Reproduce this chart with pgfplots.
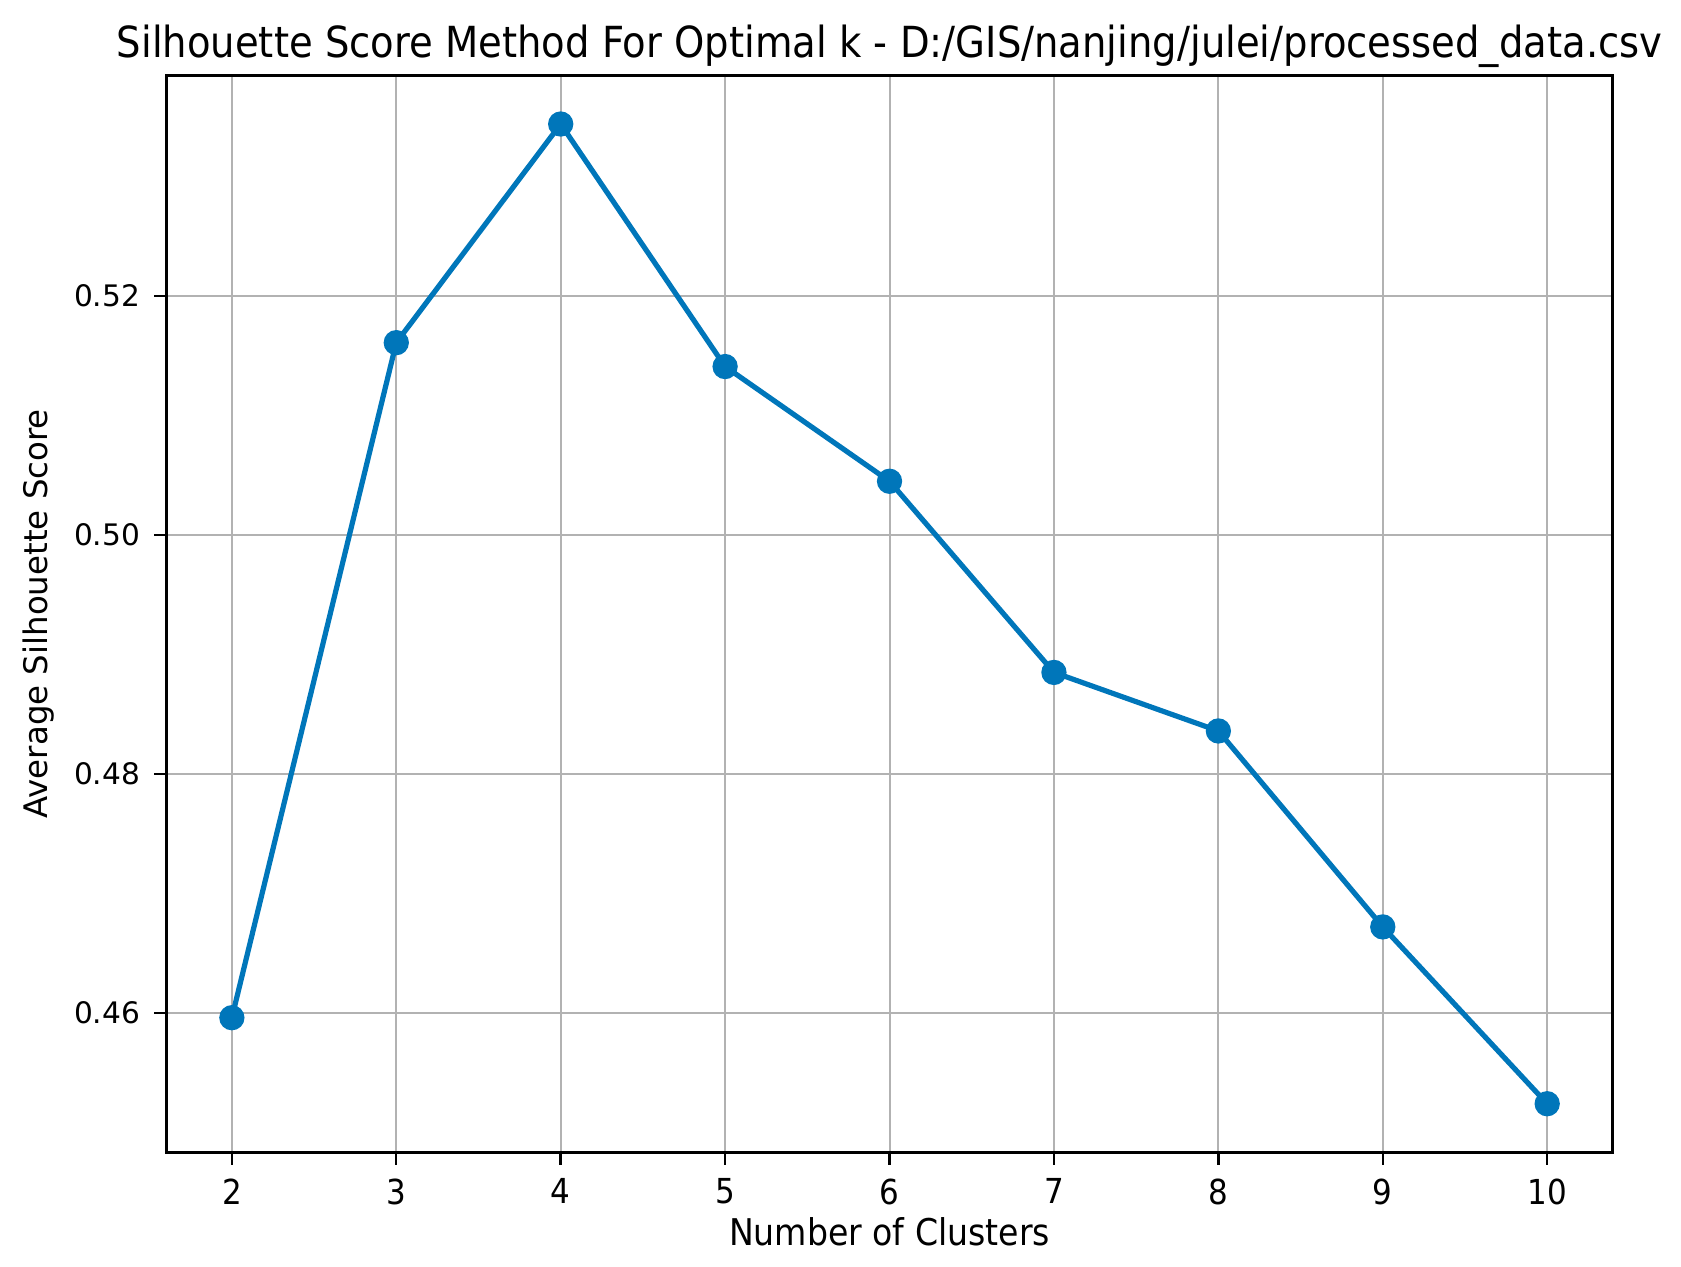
\documentclass[border=0pt]{standalone}
\usepackage{fontspec}
\setmainfont{DejaVu Sans}
\newfontfamily\condfont[FakeStretch=0.9]{DejaVu Sans}
\newfontfamily\titlefont[FakeStretch=0.9]{DejaVu Sans}
\usepackage{pgfplots}
\pgfplotsset{compat=1.18}
\definecolor{mplblue}{RGB}{0,118,186}

\begin{document}
\begin{tikzpicture}
\begin{axis}[
    scale only axis,
    width=361.5pt, height=269.25pt,
    xmin=1.6, xmax=10.4,
    ymin=0.4483, ymax=0.5385,
    xtick={2,3,4,5,6,7,8,9,10},
    ytick={0.46,0.48,0.50,0.52},
    yticklabel style={/pgf/number format/fixed, /pgf/number format/fixed zerofill, /pgf/number format/precision=2},
    /pgf/number format/assume math mode=true,
    tick align=outside,
    tick pos=left,
    major tick length=3pt,
    every tick/.style={black, line width=0.6pt},
    grid=major,
    grid style={color=black!30, line width=0.5pt},
    axis line style={line width=0.75pt},
    xticklabel style={font=\condfont\fontsize{8.6}{9}\selectfont},
    yticklabel style={font=\fontsize{7.4}{9}\selectfont},
    xlabel={Number of Clusters},
    ylabel={Average Silhouette Score},
    xlabel style={font=\condfont\fontsize{9.2}{10}\selectfont, yshift=3.7pt},
    ylabel style={font=\fontsize{8.1}{9}\selectfont, yshift=-2pt},
    title={Silhouette Score Method For Optimal k - D:/GIS/nanjing/julei/processed\_data.csv},
    title style={font=\titlefont\fontsize{10.7}{12}\selectfont, at={(0.5,1)}, anchor=base, yshift=-1.5pt},
]
\addplot[mplblue, line width=1.3pt, mark=*, mark size=2.5pt, mark options={fill=mplblue, draw=mplblue}] coordinates {
    (2,0.4596)(3,0.5161)(4,0.5344)(5,0.5141)(6,0.5045)
    (7,0.4885)(8,0.4836)(9,0.4672)(10,0.4524)
};
\end{axis}
\path (current axis.south west) ++(-41.5pt,-28.5pt) coordinate (bbl);
\path (current axis.north east) ++(17pt,18.75pt) coordinate (bbr);
\path (bbl) rectangle (bbr);
\end{tikzpicture}
\end{document}
